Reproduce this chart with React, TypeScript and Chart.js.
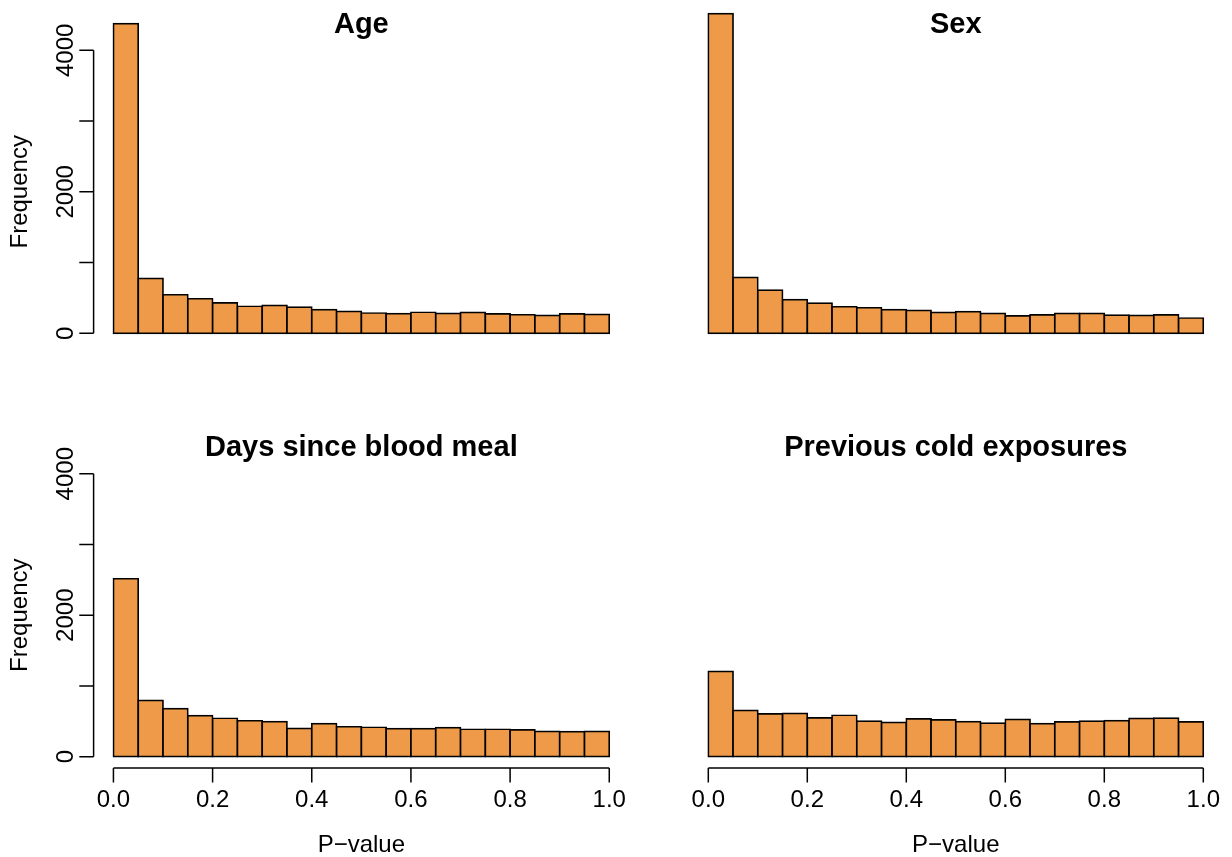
import React, { useEffect, useRef } from "react";
import { Chart, registerables } from "chart.js";

Chart.register(...registerables);

// ---- data ----
const breaks = [0, 0.05, 0.1, 0.15, 0.2, 0.25, 0.3, 0.35, 0.4, 0.45, 0.5, 0.55, 0.6, 0.65, 0.7, 0.75, 0.8, 0.85, 0.9, 0.95, 1.0];

const ageCounts = [4377, 775, 545, 488, 429, 382, 394, 370, 335, 311, 287, 279, 297, 281, 295, 273, 262, 252, 273, 267];
const sexCounts = [4520, 789, 609, 477, 427, 375, 361, 335, 325, 295, 307, 281, 245, 259, 281, 281, 257, 252, 259, 216];
const daysCounts = [2515, 795, 678, 581, 543, 508, 495, 400, 466, 423, 416, 398, 398, 410, 388, 388, 378, 358, 353, 357];
const coldCounts = [1205, 654, 604, 613, 548, 586, 503, 485, 534, 520, 495, 475, 527, 468, 492, 503, 509, 541, 545, 492];

const panelTitles = ["Age", "Sex", "Days since blood meal", "Previous cold exposures"];

const xTickValues = [0, 0.2, 0.4, 0.6, 0.8, 1.0];
const xTickLabels = ["0.0", "0.2", "0.4", "0.6", "0.8", "1.0"];
const yTickValues = [0, 1000, 2000, 3000, 4000];
const yTickLabels = ["0", "", "2000", "", "4000"];

const xAxisTitle = "P\u2212value";
const yAxisTitle = "Frequency";

// ---- layout ----
const W = 1232;
const H = 857;
const colLeft = [93.6, 688.5];
const colRight = [629.1, 1223.1];
const rowTop = [39.0, 462.4];
const rowBottom = [344.6, 768.0];

const FILL = "#EE9A49";
const FONT = '"Liberation Sans", Arial, Helvetica, sans-serif';
const LW = 1.5;
const BAR_LW = 1.7;

type Panel = { title: string; counts: number[]; col: number; row: number; showX: boolean; showY: boolean };

const panels: Panel[] = [
  { title: panelTitles[0], counts: ageCounts, col: 0, row: 0, showX: false, showY: true },
  { title: panelTitles[1], counts: sexCounts, col: 1, row: 0, showX: false, showY: false },
  { title: panelTitles[2], counts: daysCounts, col: 0, row: 1, showX: true, showY: true },
  { title: panelTitles[3], counts: coldCounts, col: 1, row: 1, showX: true, showY: false },
];

function makePlugin(p: Panel) {
  return {
    id: "rBase",
    afterDraw(chart: any) {
      const ctx = chart.ctx as CanvasRenderingContext2D;
      const xs = chart.scales.x;
      const ys = chart.scales.y;
      const area = chart.chartArea;
      ctx.save();
      ctx.strokeStyle = "#000";
      ctx.fillStyle = "#000";
      ctx.lineWidth = LW;
      ctx.lineCap = "butt";

      // title
      ctx.font = `bold 29px ${FONT}`;
      ctx.textAlign = "center";
      ctx.textBaseline = "alphabetic";
      const cx = (area.left + area.right) / 2;
      ctx.fillText(p.title, cx, area.top - 6);

      ctx.font = `24px ${FONT}`;

      if (p.showX) {
        const y0 = area.bottom;
        const xa = xs.getPixelForValue(xTickValues[0]);
        const xb = xs.getPixelForValue(xTickValues[xTickValues.length - 1]);
        ctx.beginPath();
        ctx.moveTo(xa, y0);
        ctx.lineTo(xb, y0);
        xTickValues.forEach((v) => {
          const px = xs.getPixelForValue(v);
          ctx.moveTo(px, y0);
          ctx.lineTo(px, y0 + 14.5);
        });
        ctx.stroke();
        ctx.textAlign = "center";
        xTickValues.forEach((v, i) => {
          ctx.fillText(xTickLabels[i], xs.getPixelForValue(v), y0 + 38.7);
        });
        ctx.fillText(xAxisTitle, cx, y0 + 84);
      }

      if (p.showY) {
        const x0 = area.left;
        const ya = ys.getPixelForValue(yTickValues[0]);
        const yb = ys.getPixelForValue(yTickValues[yTickValues.length - 1]);
        ctx.beginPath();
        ctx.moveTo(x0, ya);
        ctx.lineTo(x0, yb);
        yTickValues.forEach((v) => {
          const py = ys.getPixelForValue(v);
          ctx.moveTo(x0, py);
          ctx.lineTo(x0 - 14.3, py);
        });
        ctx.stroke();
        yTickValues.forEach((v, i) => {
          if (!yTickLabels[i]) return;
          const py = ys.getPixelForValue(v);
          ctx.save();
          ctx.translate(x0 - 20.3, py);
          ctx.rotate(-Math.PI / 2);
          ctx.textAlign = "center";
          ctx.fillText(yTickLabels[i], 0, 0);
          ctx.restore();
        });
        const cy = (area.top + area.bottom) / 2;
        ctx.save();
        ctx.translate(27, cy);
        ctx.rotate(-Math.PI / 2);
        ctx.textAlign = "center";
        ctx.fillText(yAxisTitle, 0, 0);
        ctx.restore();
      }
      ctx.restore();
    },
  };
}

function HistPanel({ p }: { p: Panel }) {
  const ref = useRef<HTMLCanvasElement | null>(null);
  useEffect(() => {
    if (!ref.current) return;
    const data = p.counts.map((c, i) => ({ x: (breaks[i] + breaks[i + 1]) / 2, y: c }));
    const chart = new Chart(ref.current, {
      type: "bar",
      data: {
        datasets: [
          {
            data: data as any,
            backgroundColor: FILL,
            borderColor: "#000",
            borderWidth: BAR_LW,
            borderSkipped: false,
            inflateAmount: BAR_LW / 2,
            barPercentage: 1,
            categoryPercentage: 1,
            clip: false as any,
          } as any,
        ],
      },
      options: {
        responsive: false,
        animation: false,
        devicePixelRatio: 1,
        layout: {
          padding: {
            left: colLeft[p.col],
            right: W - colRight[p.col],
            top: rowTop[p.row],
            bottom: H - rowBottom[p.row],
          },
        },
        scales: {
          x: { type: "linear", min: -0.04, max: 1.04, offset: false, display: false, grid: { offset: false } },
          y: { type: "linear", min: -160, max: 4160, display: false },
        },
        plugins: {
          legend: { display: false },
          tooltip: { enabled: false },
        },
      },
      plugins: [makePlugin(p) as any],
    });
    return () => chart.destroy();
  }, [p]);
  return (
    <canvas
      ref={ref}
      width={W}
      height={H}
      style={{ position: "absolute", left: 0, top: 0, width: W, height: H }}
    />
  );
}

export default function App() {
  return (
    <div style={{ position: "absolute", left: 0, top: 0, width: W, height: H, background: "#fff" }}>
      {panels.map((p, i) => (
        <HistPanel key={i} p={p} />
      ))}
    </div>
  );
}
